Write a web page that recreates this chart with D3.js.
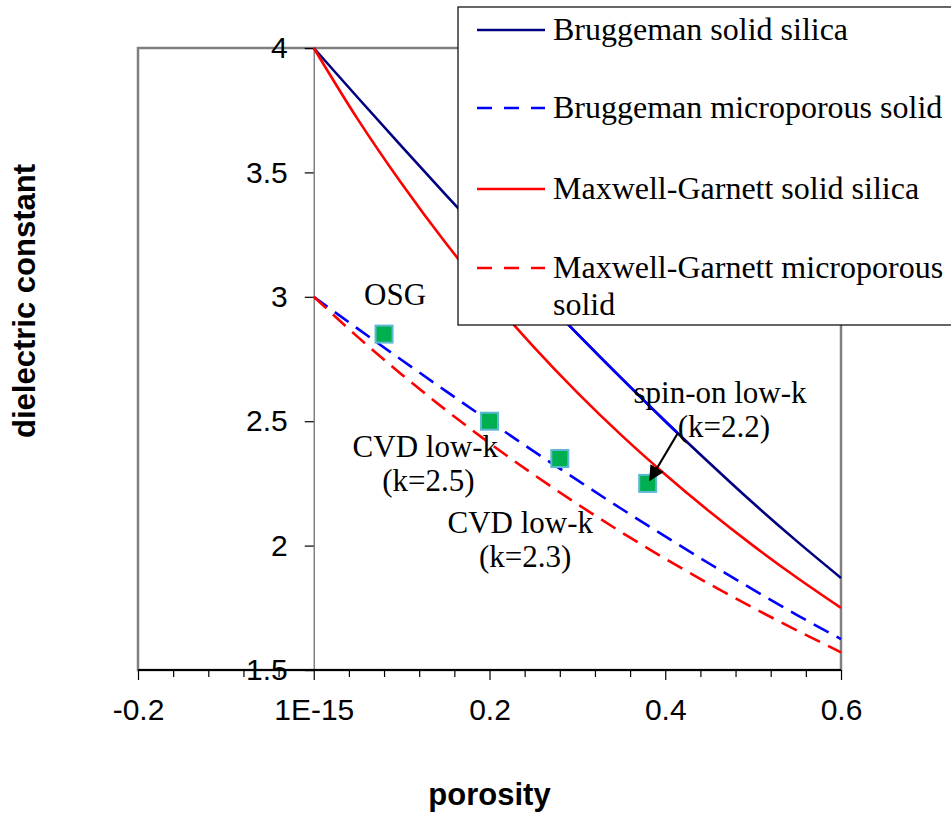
<!DOCTYPE html>
<html>
<head>
<meta charset="utf-8">
<script src="https://cdn.jsdelivr.net/npm/d3@7"></script>
<style>
  body { margin: 0; background: #fff; }
  svg { display: block; }
</style>
</head>
<body>
<svg id="chart" width="951" height="817"></svg>
<script>
// Porosity grid used for the model curves
const porosity = [0, 0.05, 0.1, 0.15, 0.2, 0.25, 0.3, 0.35, 0.4, 0.45, 0.5, 0.55, 0.6];

// Dielectric constant
const bruggemanSolid = [4.0, 3.801, 3.605, 3.411, 3.221, 3.034, 2.851, 2.673, 2.5, 2.333, 2.171, 2.017, 1.870];
const bruggemanMicro = [3.0, 2.872, 2.746, 2.622, 2.5, 2.380, 2.263, 2.148, 2.037, 1.928, 1.823, 1.721, 1.624];
const mgSolid = [4.0, 3.714, 3.455, 3.217, 3.0, 2.8, 2.615, 2.444, 2.286, 2.138, 2.0, 1.871, 1.75];
const mgMicro = [3.0, 2.839, 2.688, 2.546, 2.412, 2.286, 2.167, 2.054, 1.947, 1.846, 1.75, 1.659, 1.571];

// Measured films
const samplePorosity = [0.08, 0.2, 0.28, 0.38];
const sampleK = [2.85, 2.5, 2.35, 2.25];

// Tick values
const xMajorTicks = [-0.2, 0, 0.2, 0.4, 0.6];
const xMinorTicks = [-0.16, -0.12, -0.08, -0.04, 0.04, 0.08, 0.12, 0.16, 0.24, 0.28, 0.32, 0.36, 0.44, 0.48, 0.52, 0.56];
const yTicks = [1.5, 2, 2.5, 3, 3.5, 4];

const seriesNames = [
  "Bruggeman solid silica",
  "Bruggeman microporous solid",
  "Maxwell-Garnett solid silica",
  "Maxwell-Garnett microporous solid"
];

const svg = d3.select("#chart");
const margin = { top: 48, right: 110, bottom: 147, left: 138 };
const width = +svg.attr("width"), height = +svg.attr("height");

const x = d3.scaleLinear().domain([-0.2, 0.6]).range([margin.left, width - margin.right]);
const y = d3.scaleLinear().domain([1.5, 4]).range([height - margin.bottom, margin.top]);

const sans = "Liberation Sans, Arial, sans-serif";
const serif = "Liberation Serif, Times New Roman, serif";

// Plot frame
svg.append("rect")
  .attr("x", x(-0.2)).attr("y", y(4))
  .attr("width", x(0.6) - x(-0.2)).attr("height", y(1.5) - y(4))
  .attr("fill", "none").attr("stroke", "#808080").attr("stroke-width", 2.5);

// Y axis sits at porosity = 0
const yAxis = svg.append("g")
  .attr("transform", `translate(${x(0)},0)`)
  .call(d3.axisLeft(y).tickValues(yTicks).tickSize(9).tickPadding(17).tickFormat(d => String(d)));
yAxis.select(".domain").attr("stroke", "#808080").attr("stroke-width", 1.5);
yAxis.selectAll(".tick line").attr("stroke", "#000").attr("stroke-width", 1.2);
yAxis.selectAll("text").attr("font-family", sans).attr("font-size", 30).attr("fill", "#000");

// X axis with minor ticks
const xAxisG = svg.append("g").attr("transform", `translate(0,${y(1.5)})`);
xAxisG.append("g")
  .call(d3.axisBottom(x).tickValues(xMinorTicks).tickSize(7).tickFormat(""))
  .call(g => g.select(".domain").remove());
xAxisG.append("g")
  .call(d3.axisBottom(x).tickValues(xMajorTicks).tickSize(10).tickPadding(19)
    .tickFormat(d => d === 0 ? "1E-15" : String(d)));
xAxisG.selectAll(".tick line").attr("stroke", "#000").attr("stroke-width", 1.2);
xAxisG.selectAll(".domain").attr("stroke", "#000").attr("stroke-width", 2).attr("d", `M${x(-0.2)},0H${x(0.6)}`);
xAxisG.selectAll("text").attr("font-family", sans).attr("font-size", 30).attr("fill", "#000");

// Curves
const line = d3.line()
  .x((d, i) => x(porosity[i]))
  .y(d => y(d))
  .curve(d3.curveMonotoneX);

const curves = [
  { name: seriesNames[0], values: bruggemanSolid, color: "#000080", dash: null },
  { name: seriesNames[1], values: bruggemanMicro, color: "#0000FF", dash: "17,9" },
  { name: seriesNames[2], values: mgSolid, color: "#FF0000", dash: null },
  { name: seriesNames[3], values: mgMicro, color: "#FF0000", dash: "17,9" }
];

svg.selectAll(".curve")
  .data(curves)
  .join("path")
  .attr("class", "curve")
  .attr("d", d => line(d.values))
  .attr("fill", "none")
  .attr("stroke", d => d.color)
  .attr("stroke-width", 2.6)
  .attr("stroke-dasharray", d => d.dash);

// part of the solid Bruggeman curve renders in bright blue
svg.append("clipPath").attr("id", "blueClip")
  .append("rect")
  .attr("x", x(0.25)).attr("y", 0)
  .attr("width", x(0.414) - x(0.25)).attr("height", height);
svg.append("path")
  .attr("d", line(bruggemanSolid))
  .attr("clip-path", "url(#blueClip)")
  .attr("fill", "none").attr("stroke", "#0000FF").attr("stroke-width", 2.6);

// Sample markers
svg.selectAll(".sample")
  .data(samplePorosity.map((p, i) => ({ p, k: sampleK[i] })))
  .join("rect")
  .attr("class", "sample")
  .attr("x", d => x(d.p) - 8.5).attr("y", d => y(d.k) - 8.5)
  .attr("width", 17).attr("height", 17)
  .attr("fill", "#00B050").attr("stroke", "#5DB8D2").attr("stroke-width", 2);

// Annotations
const notes = [
  { lines: ["OSG"], px: 0.0925, k: 2.967, dx: [0] },
  { lines: ["CVD low-k", "(k=2.5)"], px: 0.127, k: 2.356, dx: [0, 3] },
  { lines: ["CVD low-k", "(k=2.3)"], px: 0.235, k: 2.05, dx: [0, 5] },
  { lines: ["spin-on low-k", "(k=2.2)"], px: 0.4623, k: 2.573, dx: [0, 4] }
];
notes.forEach(n => {
  const t = svg.append("text")
    .attr("font-family", serif).attr("font-size", 31).attr("text-anchor", "middle");
  n.lines.forEach((s, i) => {
    t.append("tspan")
      .attr("x", x(n.px) + n.dx[i])
      .attr("y", y(n.k) + i * 34)
      .text(s);
  });
});

// Arrow to the spin-on sample
svg.append("defs").append("marker")
  .attr("id", "arrow").attr("viewBox", "0 0 10 10")
  .attr("refX", 9).attr("refY", 5)
  .attr("markerWidth", 7).attr("markerHeight", 7)
  .attr("markerUnits", "strokeWidth")
  .attr("orient", "auto")
  .append("path").attr("d", "M0,0L10,5L0,10Z").attr("fill", "#000");
svg.append("line")
  .attr("x1", x(0.4144)).attr("y1", y(2.4526))
  .attr("x2", x(0.3826)).attr("y2", y(2.2637))
  .attr("stroke", "#000").attr("stroke-width", 2.2)
  .attr("marker-end", "url(#arrow)");

// Legend
const legend = svg.append("g");
legend.append("rect")
  .attr("x", 458).attr("y", 7).attr("width", 520).attr("height", 318)
  .attr("fill", "#fff").attr("stroke", "#000").attr("stroke-width", 1.2);
const legendY = [30, 108, 189, 268];
curves.forEach((c, i) => {
  legend.append("line")
    .attr("x1", 477).attr("x2", 545)
    .attr("y1", legendY[i]).attr("y2", legendY[i])
    .attr("stroke", c.color).attr("stroke-width", 2.6)
    .attr("stroke-dasharray", c.dash ? "15,12" : null);
});
const legendText = [["Bruggeman solid silica"], ["Bruggeman microporous solid"],
  ["Maxwell-Garnett solid silica"], ["Maxwell-Garnett microporous", "solid"]];
legendText.forEach((rows, i) => {
  const t = legend.append("text").attr("font-family", serif).attr("font-size", 32).attr("fill", "#000");
  rows.forEach((s, j) => {
    t.append("tspan").attr("x", 553).attr("y", legendY[i] + 10 + j * 37).text(s);
  });
});

// Axis titles
svg.append("text")
  .attr("transform", `translate(35,${(y(4) + y(1.5)) / 2 - 58}) rotate(-90)`)
  .attr("text-anchor", "middle")
  .attr("font-family", sans).attr("font-size", 31).attr("font-weight", "bold")
  .text("dielectric constant");
svg.append("text")
  .attr("x", x(0.2)).attr("y", 805)
  .attr("text-anchor", "middle")
  .attr("font-family", sans).attr("font-size", 31).attr("font-weight", "bold")
  .text("porosity");
</script>
</body>
</html>
